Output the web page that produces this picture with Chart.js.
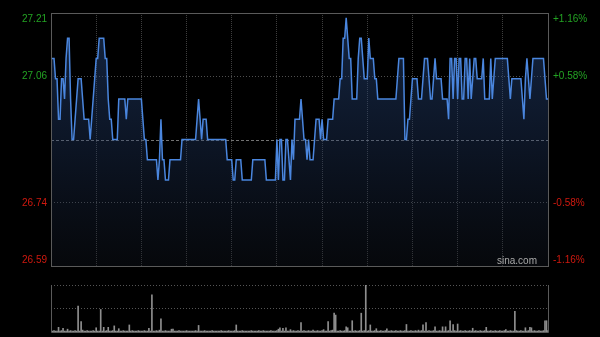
<!DOCTYPE html>
<html><head><meta charset="utf-8">
<script src="https://cdn.jsdelivr.net/npm/chart.js@4.4.1/dist/chart.umd.min.js"></script>
<style>
html,body{margin:0;padding:0;background:#000;overflow:hidden;}
#wrap{position:relative;width:600px;height:337px;background:#000;}
canvas{position:absolute;left:0;top:0;}
</style></head><body>
<div id="wrap"><canvas id="price" width="600" height="337"></canvas><canvas id="vol" width="600" height="337"></canvas></div>
<script>
// ---- data ----
const prevClose = 26.90;
const priceMin = 26.588;
const priceMax = 27.212;
const axisValues = [27.212, 27.056, 26.744, 26.588];
const leftLabels = ['27.21', '27.06', '26.74', '26.59'];
const rightLabels = ['+1.16%', '+0.58%', '-0.58%', '-1.16%'];
const priceGridValues = [27.056, 26.744];
const gridMinutes = [30, 60, 90, 120, 150, 180, 210, 240, 270, 300];
const totalMinutes = 330;
const watermark = 'sina.com';

// one price per minute (09:30 .. 16:00, 331 points)
const prices = [
27.10,27.10,27.10,27.05,27.05,26.95,26.95,27.05,27.05,27.00,
27.10,27.15,27.15,27.00,26.90,26.90,26.95,27.00,27.05,27.05,
27.05,27.00,26.95,26.95,26.95,26.95,26.90,26.95,27.00,27.05,
27.10,27.10,27.15,27.15,27.15,27.15,27.10,27.10,27.00,26.95,
26.95,26.90,26.90,26.90,26.90,27.00,27.00,27.00,27.00,27.00,
26.95,27.00,27.00,27.00,27.00,27.00,27.00,27.00,27.00,27.00,
27.00,26.95,26.90,26.90,26.85,26.85,26.85,26.85,26.85,26.85,
26.85,26.80,26.85,26.95,26.85,26.85,26.80,26.80,26.80,26.85,
26.85,26.85,26.85,26.85,26.85,26.85,26.85,26.90,26.90,26.90,
26.90,26.90,26.90,26.90,26.90,26.90,26.90,26.95,27.00,26.95,
26.90,26.95,26.95,26.95,26.90,26.90,26.90,26.90,26.90,26.90,
26.90,26.90,26.90,26.90,26.90,26.90,26.90,26.85,26.85,26.85,
26.85,26.80,26.80,26.85,26.85,26.85,26.85,26.80,26.80,26.80,
26.80,26.80,26.80,26.80,26.85,26.85,26.85,26.85,26.85,26.85,
26.85,26.85,26.85,26.80,26.80,26.80,26.80,26.80,26.80,26.80,
26.90,26.80,26.90,26.90,26.80,26.80,26.90,26.90,26.85,26.80,
26.90,26.85,26.95,26.95,26.95,26.95,27.00,26.95,26.90,26.90,
26.85,26.90,26.85,26.85,26.85,26.90,26.95,26.95,26.95,26.90,
26.95,26.90,26.90,26.90,26.95,26.95,26.95,26.95,27.00,27.00,
27.00,27.00,27.05,27.05,27.15,27.15,27.20,27.15,27.10,27.10,
27.00,27.00,27.00,27.00,27.10,27.15,27.15,27.10,27.05,27.05,
27.05,27.15,27.10,27.10,27.10,27.05,27.05,27.00,27.00,27.00,
27.00,27.00,27.00,27.00,27.00,27.00,27.00,27.00,27.00,27.00,
27.05,27.10,27.10,27.10,27.10,26.90,26.90,26.95,26.95,27.00,
27.05,27.05,27.05,27.05,27.00,27.00,27.00,27.05,27.10,27.10,
27.10,27.05,27.00,27.00,27.05,27.10,27.05,27.05,27.05,27.05,
27.00,27.00,27.00,27.00,26.95,27.10,27.10,27.00,27.10,27.10,
27.00,27.10,27.10,27.00,27.00,27.10,27.10,27.00,27.10,27.00,
27.05,27.10,27.10,27.05,27.05,27.05,27.05,27.10,27.00,27.00,
27.00,27.00,27.10,27.00,27.05,27.10,27.10,27.10,27.10,27.10,
27.10,27.10,27.10,27.10,27.05,27.00,27.05,27.05,27.05,27.05,
27.05,27.05,27.05,27.00,26.95,27.05,27.10,27.05,27.00,27.05,
27.10,27.10,27.10,27.10,27.10,27.10,27.10,27.10,27.05,27.00,
27.00
];

// relative volume per minute (max = 100)
const volumes = [
6,2,3,2,2,10,2,3,8,2,
2,6,2,3,2,2,3,2,55,2,
22,4,2,2,3,2,2,2,3,2,
9,2,2,48,2,10,2,3,10,2,
2,3,13,2,2,7,2,2,3,2,
2,2,15,2,3,2,2,2,3,2,
2,2,3,2,2,8,2,79,2,2,
3,2,4,28,2,2,3,2,2,2,
6,6,2,2,2,3,2,2,2,2,
3,2,2,2,2,2,3,2,14,2,
2,2,3,2,2,2,2,3,2,2,
2,2,2,3,2,2,2,2,3,2,
2,2,3,15,2,2,2,3,2,2,
2,2,2,3,2,2,2,2,3,2,
2,3,2,2,2,2,3,2,2,2,
3,6,9,2,8,2,9,2,2,5,
2,3,2,2,3,2,20,2,3,2,
2,3,2,2,4,2,2,3,2,2,
3,5,2,2,22,2,3,4,40,36,
2,2,3,2,2,3,11,9,2,2,
24,2,3,2,2,3,40,2,3,100,
2,3,15,2,2,3,7,2,2,3,
2,2,3,7,2,2,3,2,2,3,
2,2,3,2,2,3,16,2,2,3,
2,2,3,2,4,2,3,15,2,20,
2,3,2,2,3,11,2,2,3,2,
11,2,11,2,3,24,2,16,3,2,
17,2,3,2,2,3,2,2,3,2,
8,2,3,2,2,3,2,2,3,10,
2,2,3,2,2,3,2,2,3,2,
2,3,5,2,2,3,2,2,44,3,
2,2,3,2,2,9,2,3,10,9,
2,3,2,2,3,2,2,3,24,24,
3
];

// ---- styles ----
const upColor = '#23a323';
const downColor = '#d0190f';
const frameColor = '#5a5a5a';
const FONT = '10px "Liberation Sans", Arial, sans-serif';

const framePlugin = {
  id: 'frame',
  beforeDatasetsDraw(chart) {
    const {ctx, chartArea: a, scales: {y}} = chart;
    const py = Math.round(y.getPixelForValue(prevClose)) + 0.5;
    ctx.save();
    ctx.strokeStyle = '#727272';
    ctx.lineWidth = 1;
    ctx.setLineDash([3, 2]);
    ctx.beginPath(); ctx.moveTo(a.left, py); ctx.lineTo(a.right, py); ctx.stroke();
    ctx.restore();
  },
  afterDraw(chart) {
    const {ctx, chartArea: a, scales: {y}} = chart;
    ctx.save();
    ctx.strokeStyle = frameColor;
    ctx.lineWidth = 1;
    ctx.strokeRect(Math.round(a.left) + 0.5, Math.round(a.top) + 0.5, Math.round(a.right - a.left), Math.round(a.bottom - a.top));
    ctx.font = FONT;
    ctx.textBaseline = 'middle';
    axisValues.forEach((v, i) => {
      let py = y.getPixelForValue(v);
      py = Math.min(Math.max(py, a.top + 6), a.bottom - 6);
      ctx.fillStyle = v > prevClose ? upColor : downColor;
      ctx.textAlign = 'right';
      ctx.fillText(leftLabels[i], a.left - 4, py);
      ctx.textAlign = 'left';
      ctx.fillText(rightLabels[i], a.right + 5, py);
    });
    ctx.fillStyle = '#a9a9a9';
    ctx.textAlign = 'right';
    ctx.fillText(watermark, a.right - 11, a.bottom - 5);
    ctx.restore();
  }
};

new Chart(document.getElementById('price'), {
  type: 'line',
  data: {
    datasets: [{
      data: prices.map((p, i) => ({x: i, y: p})),
      borderColor: '#4a86de',
      borderWidth: 1.5,
      pointRadius: 0,
      tension: 0,
      fill: 'start',
      backgroundColor: (c) => {
        const a = c.chart.chartArea;
        if (!a) return 'rgba(0,0,0,0)';
        const g = c.chart.ctx.createLinearGradient(0, a.top, 0, a.bottom);
        g.addColorStop(0, 'rgba(45,85,150,0.45)');
        g.addColorStop(0.5, 'rgba(35,60,105,0.36)');
        g.addColorStop(1, 'rgba(20,26,38,0.3)');
        return g;
      }
    }]
  },
  options: {
    responsive: false,
    animation: false,
    events: [],
    layout: {padding: {left: 51, right: 52, top: 13, bottom: 71}},
    plugins: {legend: {display: false}, tooltip: {enabled: false}},
    scales: {
      x: {
        type: 'linear', min: 0, max: totalMinutes,
        afterBuildTicks: (s) => { s.ticks = gridMinutes.map(v => ({value: v})); },
        ticks: {display: false},
        grid: {color: '#3e3e3e', drawTicks: false, lineWidth: 1},
        border: {display: false, dash: [1, 1]},
        afterFit: (s) => { s.height = 0; }
      },
      y: {
        min: priceMin, max: priceMax,
        afterBuildTicks: (s) => { s.ticks = priceGridValues.map(v => ({value: v})); },
        ticks: {display: false},
        grid: {color: '#4e4e4e', drawTicks: false, lineWidth: 1},
        border: {display: false, dash: [1, 2]},
        afterFit: (s) => { s.width = 0; }
      }
    }
  },
  plugins: [framePlugin]
});

const volFrame = {
  id: 'volFrame',
  afterDraw(chart) {
    const {ctx, chartArea: a} = chart;
    ctx.save();
    ctx.strokeStyle = frameColor;
    ctx.lineWidth = 1;
    const l = Math.round(a.left) + 0.5, r = Math.round(a.right) + 0.5, b = Math.round(a.bottom) + 0.5, t = Math.round(a.top);
    ctx.beginPath();
    ctx.moveTo(l, t); ctx.lineTo(l, b); ctx.lineTo(r, b); ctx.lineTo(r, t);
    ctx.stroke();
    ctx.restore();
  }
};

new Chart(document.getElementById('vol'), {
  type: 'bar',
  data: {
    datasets: [{
      data: volumes.map((v, i) => ({x: i, y: v})),
      backgroundColor: '#8e8e8e',
      borderWidth: 0,
      barThickness: 1
    }]
  },
  options: {
    responsive: false,
    animation: false,
    events: [],
    layout: {padding: {left: 51, right: 52, top: 285, bottom: 5}},
    plugins: {legend: {display: false}, tooltip: {enabled: false}},
    scales: {
      x: {
        type: 'linear', min: 0, max: totalMinutes, offset: false,
        ticks: {display: false},
        grid: {display: false},
        border: {display: false},
        afterFit: (s) => { s.height = 0; }
      },
      y: {
        min: 0, max: 100,
        afterBuildTicks: (s) => { s.ticks = [{value: 50}, {value: 100}]; },
        ticks: {display: false},
        grid: {color: '#555555', drawTicks: false, lineWidth: 1},
        border: {display: false, dash: [1, 2]},
        afterFit: (s) => { s.width = 0; }
      }
    }
  },
  plugins: [volFrame]
});
</script>
</body></html>
